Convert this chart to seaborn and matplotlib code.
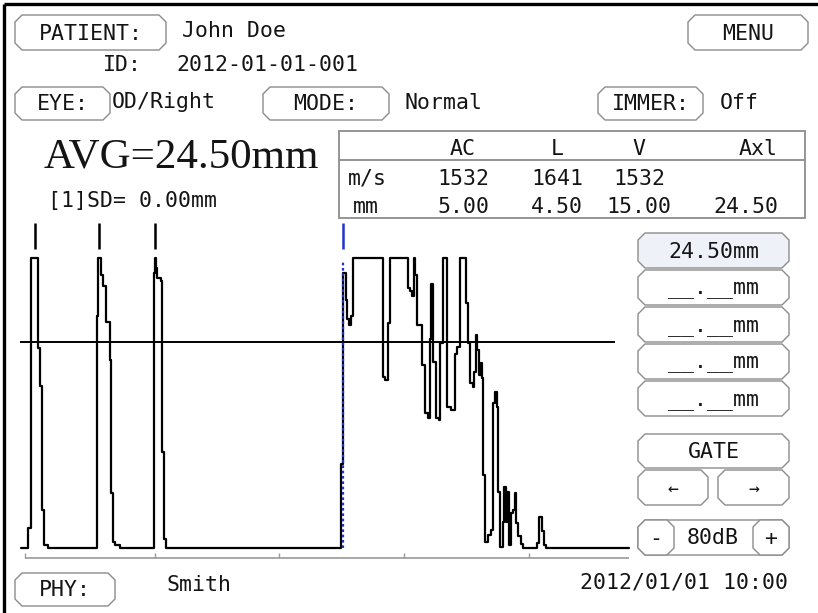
import numpy as np
import pandas as pd
import seaborn as sns
import matplotlib.pyplot as plt
from matplotlib.patches import Polygon, Rectangle

# A-scan echo trace: sample position and amplitude (%)
scan_pos = [-4, 2.5, 5.5, 13, 15, 17.3, 19.3, 23,
            71.5, 73, 75.5, 78, 80.5, 84.5, 86, 88, 90, 95,
            128.5, 129.5, 130.5, 132, 135.5, 136.5, 138.5, 140.5,
            315.5, 318, 320.7, 321.7, 324, 326, 328, 358.3, 360, 362.7, 365,
            382.7, 385, 387.3, 388.7, 390, 392, 397, 400, 402.7, 405, 406.3,
            407.7, 410.5, 414, 415, 417.5, 422.3, 425.7, 430, 432.3, 435,
            441, 443.3, 445, 447.7, 449, 451, 452.3, 454.3, 455.7, 457.3,
            458.3, 460, 463.3, 465.7, 467.7, 470, 471.7, 473.3, 475, 477.7,
            479, 480.5, 482, 483.5, 485.5, 487.5, 489.5, 491.3, 493.3, 495.7,
            498.3, 511.7, 514, 516.5, 519, 521, 604]
scan_amp = [0, 7, 100, 69, 56, 13, 1, 0,
            80, 100, 94, 90.5, 78, 65, 19, 2, 1, 0,
            95, 100, 96.5, 93, 92, 33, 3, 0,
            29, 95, 85.5, 79, 77, 80, 100, 59, 58, 77.5, 100,
            89.5, 88.5, 87, 100, 94, 77, 63, 46.5, 44.7, 72, 91,
            64, 45, 44, 70.6, 100, 48.7, 47.5, 67, 69.4, 100,
            84.4, 70.6, 56.8, 55.6, 60.8, 73.4, 68.3, 59.7, 63.7, 58.5,
            25.2, 2.2, 4.5, 6.2, 49.9, 53.9, 48.7, 19.4, 0.5, 9,
            21.1, 9, 19.4, 1, 12, 13, 18.9, 8.7, 4, 1.5,
            0, 1.7, 10.8, 5.7, 1, 0, 0]

echo_marks = [10, 73.5, 129.5]    # cornea, lens front, lens back
retina_mark = 318.3
threshold = 71
threshold_span = (-5, 590)
axis_ticks = [0, 130, 254, 379, 504]
axis_end = 604

# measurement table
table_cols = ['AC', 'L', 'V', 'Axl']
speed_vals = ['1532', '1641', '1532', '']
length_vals = ['5.00', '4.50', '15.00', '24.50']
readings = ['24.50mm', '__.__mm', '__.__mm', '__.__mm', '__.__mm']

sns.set_theme(style='white')
mono = 'DejaVu Sans Mono'
plt.rcParams['font.family'] = [mono, 'DejaVu Sans']
ink = '#141414'
edge = '#8c8c8c'
FS = 15.5

fig = plt.figure(figsize=(8.18, 6.13), dpi=100)

# ---- screen layer in pixel units ----
ui = fig.add_axes([0, 0, 1, 1])
ui.set_xlim(0, 818)
ui.set_ylim(613, 0)
ui.axis('off')


def button(x0, y0, x1, y1, label=None, fc='white', c=7, tx=None, fs=FS):
    pts = [(x0 + c, y0), (x1 - c, y0), (x1, y0 + c), (x1, y1 - c),
           (x1 - c, y1), (x0 + c, y1), (x0, y1 - c), (x0, y0 + c)]
    ui.add_patch(Polygon(pts, closed=True, fc=fc, ec=edge, lw=1.0))
    if label is not None:
        cx = (x0 + x1) / 2 if tx is None else tx
        ui.text(cx, (y0 + y1) / 2 + 1, label, ha='center', va='center',
                fontsize=fs, color=ink, family=mono)


def label(x, y, s, ha='left', fs=FS, **kw):
    ui.text(x, y, s, ha=ha, va='baseline', fontsize=fs, color=ink, **kw)


# frame
ui.plot([4, 4], [4, 613], color='black', lw=2.4, solid_capstyle='butt')
ui.plot([4, 818], [4, 4], color='black', lw=2.4, solid_capstyle='butt')

# header rows
button(15, 15, 166, 50, 'PATIENT:')
label(182, 37, 'John Doe')
button(688, 15, 808, 50, 'MENU')
label(103, 71, 'ID:')
label(176, 71, '2012-01-01-001')
button(15, 87, 110, 120, 'EYE:')
label(112, 108, 'OD/Right')
button(263, 87, 389, 120, 'MODE:')
label(405, 109, 'Normal')
button(598, 87, 703, 120, 'IMMER:')
label(720, 109, 'Off')

label(44, 168, 'AVG=24.50mm', fs=31, family='Liberation Serif')
label(48, 207, '[1]SD= 0.00mm')

# table
ui.add_patch(Rectangle((339, 131), 466, 87, fc='none', ec=edge, lw=1.3))
ui.plot([339, 805], [160, 160], color=edge, lw=1.3)
col_x = [463, 557, 639, 778]
for i, name in enumerate(table_cols):
    ha = 'right' if i == 3 else 'center'
    label(col_x[i], 155, name, ha=ha)
    label(col_x[i], 185, speed_vals[i], ha=ha)
    label(col_x[i], 213, length_vals[i], ha=ha)
label(348, 185, 'm/s')
label(353, 213, 'mm')

# right panel
for i, r in enumerate(readings):
    y0 = 233 + i * 37
    button(638, y0, 789, y0 + 35, r, fc='#eef2f8' if i == 0 else 'white')
button(638, 434, 789, 468, 'GATE')
button(638, 470, 708, 505, '←', fs=13)
button(718, 470, 789, 505, '→', fs=13)
button(638, 520, 789, 555, '80dB', tx=713)
button(638, 520, 674, 555, '-')
button(753, 520, 789, 555, '+')

# footer
button(15, 573, 115, 606, 'PHY:')
label(166, 591, 'Smith')
label(788, 589, '2012/01/01 10:00', ha='right')

# ---- A-scan trace ----
ax = fig.add_axes([15 / 818, 48 / 613, 620 / 818, 350 / 613])
ax.patch.set_alpha(0)
ax.set_xlim(-10, 610)
ax.set_ylim(-5.86, 114.83)
ax.axis('off')

trace = pd.DataFrame({'pos': scan_pos, 'amp': scan_amp})
sns.lineplot(data=trace, x='pos', y='amp', ax=ax, estimator=None, sort=False,
             drawstyle='steps-post', color='black', lw=1.6, zorder=4)

ax.hlines(threshold, *threshold_span, color='black', lw=1.4, zorder=3)
ax.vlines(echo_marks, 103, 112, color='black', lw=1.8)
ax.vlines(retina_mark, 103, 112, color='#2233cc', lw=1.8)
ax.vlines(retina_mark, 0, 98.5, color='#2233cc', lw=1.6, linestyles=(0, (1.2, 1.2)), zorder=5)

ax.hlines(-3.4, 0, axis_end, color='#9a9a9a', lw=1.2)
ax.vlines(axis_ticks, -3.4, -1.8, color='#9a9a9a', lw=1.0)

fig.savefig('out.png', dpi=100)
